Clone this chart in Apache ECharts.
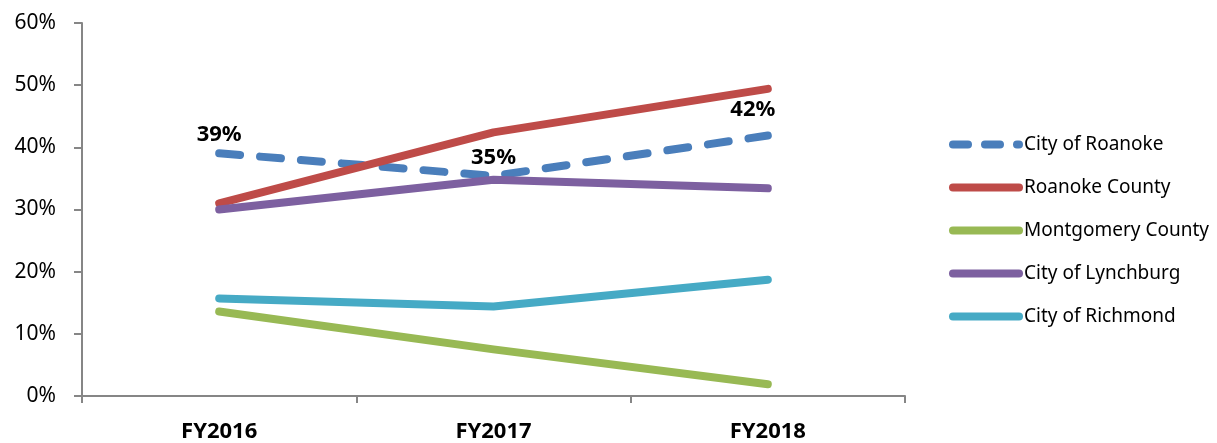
<!DOCTYPE html>
<html lang="en">
<head>
  <meta charset="UTF-8">
  <title>Chart</title>
  <script src="https://cdn.jsdelivr.net/npm/echarts@6/dist/echarts.min.js"></script>
  <style>
    html, body { margin: 0; padding: 0; background: #fff; }
  </style>
</head>
<body>
  <div id="main" style="width:1217px;height:443px;"></div>
  <script>
    // data (percent)
    var years = ["FY2016", "FY2017", "FY2018"];
    var cityOfRoanoke = [39.05, 35.4, 41.9];
    var roanokeCounty = [31.0, 42.4, 49.4];
    var montgomeryCounty = [13.6, 7.5, 1.9];
    var cityOfLynchburg = [30.0, 34.8, 33.4];
    var cityOfRichmond = [15.7, 14.4, 18.7];
    var seriesNames = ["City of Roanoke", "Roanoke County", "Montgomery County", "City of Lynchburg", "City of Richmond"];

    var font = "'Noto Sans', 'Open Sans', sans-serif";
    var axisColor = "#868686";

    function lineSeries(name, data, color, dashed) {
      return {
        name: name,
        type: "line",
        data: data,
        showSymbol: true,
        symbol: "circle",
        symbolSize: 0.1,
        silent: true,
        lineStyle: {
          color: color,
          width: 8,
          cap: "round",
          join: "round",
          type: dashed ? [21, 20] : "solid"
        },
        itemStyle: { color: color }
      };
    }

    var roanokeSeries = lineSeries(seriesNames[0], cityOfRoanoke.map(function (v, i) {
      var d = { value: v };
      // last label sits left of the point in the original
      if (i === 2) d.label = { offset: [-15, -8] };
      return d;
    }), "#4a7ebb", true);
    roanokeSeries.label = {
      show: true,
      position: "top",
      distance: 7,
      color: "#000",
      fontFamily: font,
      fontWeight: "bold",
      fontSize: 22,
      formatter: function (p) { return Math.round(p.value) + "%"; }
    };

    // legend entries; the dashed one uses a shorter pattern like the original
    var legendData = seriesNames.map(function (n, i) {
      var item = { name: n };
      if (i === 0) item.lineStyle = { type: [15, 17], width: 8, cap: "round" };
      return item;
    });

    var chart = echarts.init(document.getElementById("main"));
    chart.setOption({
      animation: false,
      backgroundColor: "#fff",
      grid: { left: 82, right: 312, top: 23, bottom: 46, containLabel: false },
      legend: {
        orient: "vertical",
        left: 944,
        top: 130,
        itemWidth: 66,
        itemHeight: 20,
        itemGap: 24,
        data: legendData,
        itemStyle: { opacity: 0 },
        lineStyle: { width: 8, cap: "round" },
        textStyle: { fontFamily: font, fontSize: 19, color: "#000" }
      },
      xAxis: {
        type: "category",
        data: years,
        boundaryGap: true,
        axisLine: { lineStyle: { color: axisColor, width: 2 } },
        axisTick: { show: true, length: 7, lineStyle: { color: axisColor, width: 2 } },
        axisLabel: { margin: 25, color: "#000", fontFamily: font, fontWeight: "bold", fontSize: 22 },
        splitLine: { show: false }
      },
      yAxis: {
        type: "value",
        min: 0,
        max: 60,
        interval: 10,
        axisLine: { show: true, lineStyle: { color: axisColor, width: 2 } },
        axisTick: { show: true, length: 8, lineStyle: { color: axisColor, width: 2 } },
        axisLabel: { margin: 26, color: "#000", fontFamily: font, fontSize: 21, formatter: "{value}%" },
        splitLine: { show: false }
      },
      series: [
        roanokeSeries,
        lineSeries(seriesNames[1], roanokeCounty, "#be4b48"),
        lineSeries(seriesNames[2], montgomeryCounty, "#98b954"),
        lineSeries(seriesNames[3], cityOfLynchburg, "#7d60a0"),
        lineSeries(seriesNames[4], cityOfRichmond, "#46aac5")
      ]
    });
  </script>
</body>
</html>
